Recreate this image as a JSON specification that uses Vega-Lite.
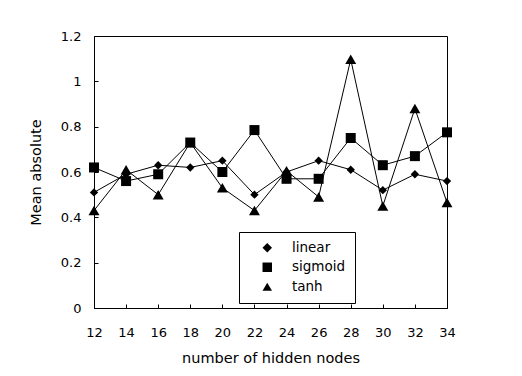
{
  "$schema": "https://vega.github.io/schema/vega-lite/v6.json",
  "width": 353,
  "height": 272,
  "autosize": "none",
  "padding": {"left": 94, "top": 36, "right": 75, "bottom": 68},
  "background": "white",
  "data": {
    "values": [
      {"nodes": 12, "series": "linear", "mae": 0.51},
      {"nodes": 14, "series": "linear", "mae": 0.59},
      {"nodes": 16, "series": "linear", "mae": 0.63},
      {"nodes": 18, "series": "linear", "mae": 0.62},
      {"nodes": 20, "series": "linear", "mae": 0.65},
      {"nodes": 22, "series": "linear", "mae": 0.50},
      {"nodes": 24, "series": "linear", "mae": 0.60},
      {"nodes": 26, "series": "linear", "mae": 0.65},
      {"nodes": 28, "series": "linear", "mae": 0.61},
      {"nodes": 30, "series": "linear", "mae": 0.52},
      {"nodes": 32, "series": "linear", "mae": 0.59},
      {"nodes": 34, "series": "linear", "mae": 0.56},
      {"nodes": 12, "series": "sigmoid", "mae": 0.62},
      {"nodes": 14, "series": "sigmoid", "mae": 0.56},
      {"nodes": 16, "series": "sigmoid", "mae": 0.59},
      {"nodes": 18, "series": "sigmoid", "mae": 0.73},
      {"nodes": 20, "series": "sigmoid", "mae": 0.60},
      {"nodes": 22, "series": "sigmoid", "mae": 0.785},
      {"nodes": 24, "series": "sigmoid", "mae": 0.57},
      {"nodes": 26, "series": "sigmoid", "mae": 0.57},
      {"nodes": 28, "series": "sigmoid", "mae": 0.75},
      {"nodes": 30, "series": "sigmoid", "mae": 0.63},
      {"nodes": 32, "series": "sigmoid", "mae": 0.67},
      {"nodes": 34, "series": "sigmoid", "mae": 0.775},
      {"nodes": 12, "series": "tanh", "mae": 0.43},
      {"nodes": 14, "series": "tanh", "mae": 0.61},
      {"nodes": 16, "series": "tanh", "mae": 0.50},
      {"nodes": 18, "series": "tanh", "mae": 0.73},
      {"nodes": 20, "series": "tanh", "mae": 0.53},
      {"nodes": 22, "series": "tanh", "mae": 0.43},
      {"nodes": 24, "series": "tanh", "mae": 0.605},
      {"nodes": 26, "series": "tanh", "mae": 0.49},
      {"nodes": 28, "series": "tanh", "mae": 1.097},
      {"nodes": 30, "series": "tanh", "mae": 0.45},
      {"nodes": 32, "series": "tanh", "mae": 0.88},
      {"nodes": 34, "series": "tanh", "mae": 0.465}
    ]
  },
  "encoding": {
    "x": {
      "field": "nodes",
      "type": "quantitative",
      "scale": {"domain": [12, 34], "nice": false, "zero": false},
      "axis": {
        "title": "number of hidden nodes",
        "values": [12, 14, 16, 18, 20, 22, 24, 26, 28, 30, 32, 34],
        "labelFlush": false,
        "tickSize": -4,
        "labelPadding": 22,
        "titlePadding": 12
      }
    },
    "y": {
      "field": "mae",
      "type": "quantitative",
      "scale": {"domain": [0, 1.2], "nice": false},
      "axis": {
        "title": "Mean absolute",
        "values": [0, 0.2, 0.4, 0.6, 0.8, 1, 1.2],
        "format": "~g",
        "labelFlush": false,
        "tickSize": -4,
        "labelPadding": 17,
        "titlePadding": 17
      }
    }
  },
  "layer": [
    {
      "mark": {"type": "line", "color": "black", "strokeWidth": 1},
      "encoding": {"detail": {"field": "series"}}
    },
    {
      "transform": [{"filter": "datum.series === 'linear'"}],
      "mark": {"type": "point", "filled": true, "color": "black", "opacity": 1, "size": 70},
      "encoding": {
        "shape": {
          "field": "series",
          "type": "nominal",
          "scale": {"domain": ["linear", "sigmoid", "tanh"], "range": ["diamond", "square", "triangle-up"]},
          "legend": {
            "title": null,
            "orient": "none",
            "legendX": 145,
            "legendY": 196,
            "padding": 9,
            "strokeColor": "black",
            "fillColor": "white",
            "symbolSize": 90,
            "symbolOffset": 12.5,
            "symbolFillColor": "black",
            "symbolStrokeColor": "black",
            "symbolStrokeWidth": 1,
            "labelOffset": 18,
            "rowPadding": 4.5,
            "labelFont": "DejaVu Sans",
            "labelFontSize": 13.5,
            "labelColor": "black"
          }
        }
      }
    },
    {
      "transform": [{"filter": "datum.series === 'sigmoid'"}],
      "mark": {"type": "point", "filled": true, "color": "black", "opacity": 1, "size": 100},
      "encoding": {"shape": {"field": "series", "type": "nominal"}}
    },
    {
      "transform": [{"filter": "datum.series === 'tanh'"}],
      "mark": {"type": "point", "filled": true, "color": "black", "opacity": 1, "size": 120},
      "encoding": {"shape": {"field": "series", "type": "nominal"}}
    }
  ],
  "config": {
    "view": {"stroke": "black", "strokeWidth": 1},
    "axis": {
      "grid": false,
      "domainColor": "black",
      "tickColor": "black",
      "tickWidth": 1,
      "labelColor": "black",
      "titleColor": "black",
      "labelFont": "DejaVu Sans",
      "labelFontSize": 13,
      "titleFont": "DejaVu Sans",
      "titleFontSize": 14.5,
      "titleFontWeight": "normal"
    }
  }
}
